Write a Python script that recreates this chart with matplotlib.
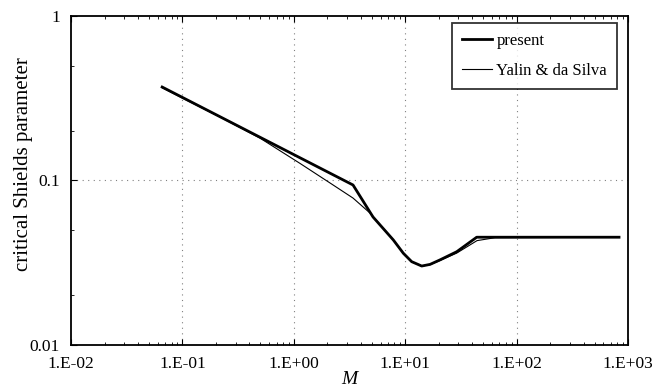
import numpy as np
import matplotlib.pyplot as plt
from matplotlib.ticker import LogLocator, NullFormatter, FixedLocator

plt.rcParams['font.family'] = ['Liberation Serif', 'DejaVu Serif']

# present
m_present = [0.0658, 3.40, 5.14, 7.82, 9.62, 11.43, 14.06, 16.7, 20.5, 29.0, 43.8, 830]
theta_present = [0.370, 0.0939, 0.060, 0.0435, 0.0361, 0.0321, 0.0302, 0.0309, 0.0329, 0.0369, 0.0452, 0.0452]

# Yalin & da Silva
m_yalin = [0.0658, 0.2175, 0.497, 1.137, 2.113, 3.40, 4.83, 7.82, 9.62, 11.43, 14.06, 16.7, 20.5, 29.0, 44.1, 64.0, 830]
theta_yalin = [0.366, 0.243, 0.181, 0.127, 0.0966, 0.0782, 0.0634, 0.0435, 0.0361, 0.0321, 0.0302, 0.0308, 0.0326, 0.0362, 0.0431, 0.0449, 0.0452]

xticks = [1e-2, 1e-1, 1e0, 1e1, 1e2, 1e3]
xlabels = ['1.E-02', '1.E-01', '1.E+00', '1.E+01', '1.E+02', '1.E+03']
yticks = [0.01, 0.1, 1]
ylabels = ['0.01', '0.1', '1']

fig = plt.figure(figsize=(6.66, 3.9), dpi=100)
ax = fig.add_axes([0.1066, 0.1154, 0.8364, 0.8436])

ax.plot(m_present, theta_present, color='black', lw=2.0, label='present')
ax.plot(m_yalin, theta_yalin, color='black', lw=0.8, label='Yalin & da Silva')

ax.set_xscale('log')
ax.set_yscale('log')
ax.set_xlim(1e-2, 1e3)
ax.set_ylim(0.01, 1)

for xv in xticks[1:-1]:
    ax.axvline(xv, color='gray', lw=0.8, ls=(0, (1, 4)), zorder=0)
ax.axhline(0.1, color='gray', lw=0.8, ls=(0, (1, 4)), zorder=0)

ax.xaxis.set_major_locator(FixedLocator(xticks))
ax.set_xticklabels(xlabels, fontsize=12.5)
ax.yaxis.set_major_locator(FixedLocator(yticks))
ax.set_yticklabels(ylabels, fontsize=12.5)
ax.xaxis.set_minor_locator(LogLocator(base=10, subs=np.arange(2, 10)))
ax.yaxis.set_minor_locator(LogLocator(base=10, subs=[2, 5]))
ax.xaxis.set_minor_formatter(NullFormatter())
ax.yaxis.set_minor_formatter(NullFormatter())
ax.tick_params(which='both', direction='in', top=True, right=False)
ax.tick_params(which='major', length=4)
ax.tick_params(which='minor', length=2)
ax.tick_params(axis='x', which='major', pad=8)
ax.tick_params(axis='y', which='major', pad=8)

for s in ax.spines.values():
    s.set_linewidth(1.3)

ax.set_ylabel('critical Shields parameter', fontsize=15)
ax.yaxis.set_label_coords(-0.068, 0.549)
ax.set_xlabel('M', fontsize=14, style='italic')
ax.xaxis.set_label_coords(0.50, -0.08)

leg = ax.legend(loc='upper right', bbox_to_anchor=(0.980, 0.979), borderaxespad=0,
                fontsize=12, frameon=True, fancybox=False, edgecolor='black',
                handlelength=1.8, handletextpad=0.25, borderpad=0.6, labelspacing=0.85)
leg.get_frame().set_linewidth(1.3)

plt.savefig('out.png', dpi=100)
